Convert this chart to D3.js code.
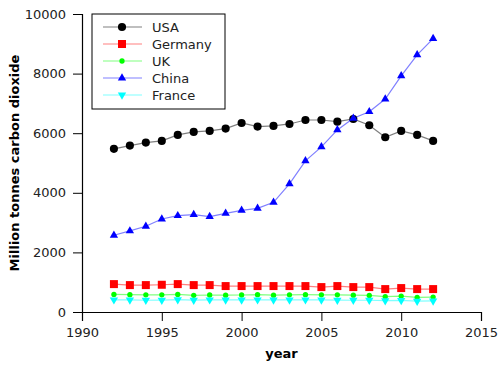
<!DOCTYPE html>
<html>
<head>
<meta charset="utf-8">
<script src="https://cdn.jsdelivr.net/npm/d3@7"></script>
<style>
  body { margin: 0; background: #fff; }
  text { font-family: "DejaVu Sans", sans-serif; }
</style>
</head>
<body>
<div id="chart"></div>
<script>
// Data
const years = [1992, 1993, 1994, 1995, 1996, 1997, 1998, 1999, 2000, 2001, 2002,
               2003, 2004, 2005, 2006, 2007, 2008, 2009, 2010, 2011, 2012];
const usa = [5475, 5585, 5686, 5742, 5942, 6043, 6076, 6154, 6344, 6221, 6244,
             6310, 6443, 6443, 6388, 6477, 6265, 5864, 6076, 5942, 5742];
const germany = [936, 903, 903, 914, 936, 903, 903, 870, 870, 870, 870,
                 870, 870, 836, 870, 836, 836, 769, 803, 769, 769];
const uk = [590, 580, 575, 575, 590, 560, 570, 565, 570, 580, 565,
            575, 580, 575, 575, 565, 555, 515, 535, 490, 500];
const china = [2575, 2720, 2876, 3121, 3232, 3266, 3199, 3311, 3411, 3478, 3679,
               4303, 5073, 5542, 6110, 6500, 6722, 7146, 7926, 8629, 9174];
const france = [410, 405, 395, 400, 415, 400, 410, 405, 405, 410, 405,
                405, 410, 405, 400, 395, 395, 380, 390, 365, 370];
const seriesNames = ["USA", "Germany", "UK", "China", "France"];
const xTicks = [1990, 1995, 2000, 2005, 2010, 2015];
const yTicks = [0, 2000, 4000, 6000, 8000, 10000];

const width = 504;
const height = 373;
const margin = { top: 14, right: 23, bottom: 61, left: 82 };

const svg = d3.select("#chart")
  .append("svg")
  .attr("width", width)
  .attr("height", height);

const x = d3.scaleLinear().domain([1990, 2015]).range([margin.left, width - margin.right]);
const y = d3.scaleLinear().domain([0, 10000]).range([height - margin.bottom, margin.top]);

// series styles
const series = [
  { name: seriesNames[0], values: usa, color: "#000000", symbol: d3.symbolCircle, size: 52 },
  { name: seriesNames[1], values: germany, color: "#ff0000", symbol: d3.symbolSquare, size: 64 },
  { name: seriesNames[2], values: uk, color: "#00ff00", symbol: d3.symbolCircle, size: 22 },
  { name: seriesNames[3], values: china, color: "#0000ff", symbol: d3.symbolTriangle, size: 30, rot: 0 },
  { name: seriesNames[4], values: france, color: "#00ffff", symbol: d3.symbolTriangle, size: 30, rot: 180 }
];

// axes: major + minor ticks, outward
const xAxisG = svg.append("g").attr("transform", `translate(0,${y(0)})`);
xAxisG.call(d3.axisBottom(x).tickValues(d3.range(1990, 2016, 1)).tickSize(4).tickFormat(""));
xAxisG.call(d3.axisBottom(x).tickValues(xTicks).tickSize(9).tickPadding(7).tickFormat(d3.format("d")));

const yAxisG = svg.append("g").attr("transform", `translate(${x(1990)},0)`);
yAxisG.call(d3.axisLeft(y).tickValues(d3.range(0, 10001, 500)).tickSize(5).tickFormat(""));
yAxisG.call(d3.axisLeft(y).tickValues(yTicks).tickSize(9).tickPadding(7).tickFormat(d3.format("d")));

svg.selectAll(".domain").attr("stroke", "#000").attr("stroke-width", 1.2);
svg.selectAll(".tick line").attr("stroke", "#000");
svg.selectAll(".tick text").attr("font-family", "DejaVu Sans").attr("font-size", 13).attr("fill", "#222");

// axis titles
svg.append("text")
  .attr("x", (x(1990) + x(2015)) / 2)
  .attr("y", 358)
  .attr("text-anchor", "middle")
  .attr("font-size", 13)
  .attr("font-weight", "bold")
  .text("year");

svg.append("text")
  .attr("transform", `translate(19,${(y(0) + y(10000)) / 2}) rotate(-90)`)
  .attr("text-anchor", "middle")
  .attr("font-size", 13)
  .attr("font-weight", "bold")
  .text("Million tonnes carbon dioxide");

// lines and markers
const line = d3.line().x((d, i) => x(years[i])).y((d) => y(d));

series.forEach((s) => {
  svg.append("path")
    .datum(s.values)
    .attr("fill", "none")
    .attr("stroke", s.color)
    .attr("stroke-opacity", 0.5)
    .attr("stroke-width", 1.2)
    .attr("d", line);

  svg.selectAll(null)
    .data(s.values)
    .enter()
    .append("path")
    .attr("d", d3.symbol().type(s.symbol).size(s.size))
    .attr("transform", (d, i) => `translate(${x(years[i])},${y(d)}) rotate(${s.rot || 0})`)
    .attr("fill", s.color);
});

// legend
const legend = svg.append("g").attr("transform", "translate(92,14)");
legend.append("rect")
  .attr("width", 133)
  .attr("height", 95)
  .attr("fill", "#fff")
  .attr("stroke", "#000")
  .attr("stroke-width", 1);

const item = legend.selectAll(".item")
  .data(series)
  .enter()
  .append("g")
  .attr("class", "item")
  .attr("transform", (d, i) => `translate(0,${13 + i * 17})`);

item.append("line")
  .attr("x1", 11).attr("x2", 50)
  .attr("stroke", (d) => d.color)
  .attr("stroke-opacity", 0.5)
  .attr("stroke-width", 1.2);

item.append("path")
  .attr("d", (d) => d3.symbol().type(d.symbol).size(d.size)())
  .attr("transform", (d) => `translate(30,0) rotate(${d.rot || 0})`)
  .attr("fill", (d) => d.color);

item.append("text")
  .attr("x", 60)
  .attr("dy", "0.35em")
  .attr("font-size", 13)
  .attr("fill", "#222")
  .text((d) => d.name);
</script>
</body>
</html>
